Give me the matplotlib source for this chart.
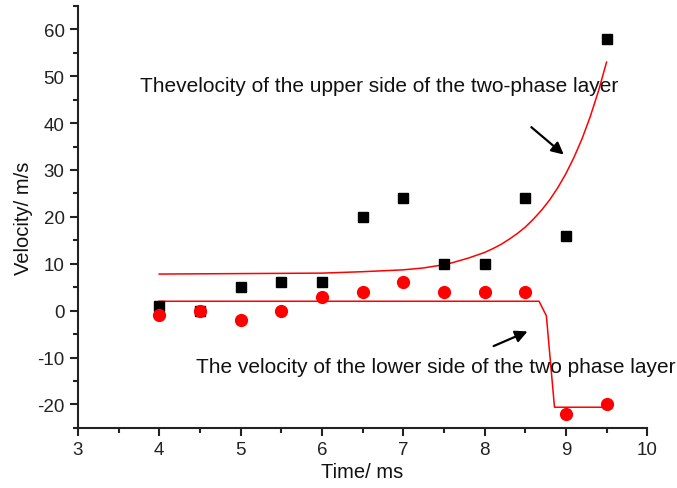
import matplotlib.pyplot as plt
from matplotlib.ticker import MultipleLocator

plt.rcParams['font.family'] = ['Liberation Sans', 'DejaVu Sans']
plt.rcParams['axes.unicode_minus'] = False

# measured points
time_ms = [4, 4.5, 5, 5.5, 6, 6.5, 7, 7.5, 8, 8.5, 9, 9.5]
upper_vel = [1, 0, 5, 6, 6, 20, 24, 10, 10, 24, 16, 58]
lower_vel = [-1, 0, -2, 0, 3, 4, 6, 4, 4, 4, -22, -20]

# fitted curves
upper_fit_t = [4, 5, 6, 6.5, 7, 7.25, 7.5, 7.6, 7.7, 7.8, 7.9, 8.0, 8.1, 8.2, 8.3, 8.4,
               8.5, 8.6, 8.7, 8.8, 8.9, 9.0, 9.1, 9.2, 9.3, 9.4, 9.5]
upper_fit_v = [7.8, 7.9, 8.0, 8.3, 8.7, 9.1, 9.8, 10.2, 10.7, 11.2, 11.8, 12.4, 13.2, 14.1, 15.2, 16.4,
               17.8, 19.5, 21.4, 23.6, 26.2, 29.2, 32.7, 36.7, 41.4, 46.8, 53.0]
lower_fit_t = [4, 8.67, 8.76, 8.86, 9.5]
lower_fit_v = [2, 2, -1.1, -20.6, -20.6]

fig = plt.figure(figsize=(6.77, 4.89), dpi=100)
ax = fig.add_axes([0.115, 0.123, 0.841, 0.863])

ax.plot(upper_fit_t, upper_fit_v, color='red', lw=1.1, zorder=2)
ax.plot(lower_fit_t, lower_fit_v, color='red', lw=1.1, zorder=2)
ax.plot(time_ms, upper_vel, 's', color='black', ms=7, zorder=3)
ax.plot(time_ms, lower_vel, 'o', color='red', ms=8.5, zorder=4)

ax.text(3.76, 48, 'Thevelocity of the upper side of the two-phase layer',
        fontsize=15, va='center', ha='left', color='#111111')
ax.text(4.45, -12, 'The velocity of the lower side of the two phase layer',
        fontsize=15, va='center', ha='left', color='#111111')

ax.annotate('', xy=(9.0, 32.9), xytext=(8.55, 39.5),
            arrowprops=dict(arrowstyle='-|>', color='black', lw=1.6, mutation_scale=18))
ax.annotate('', xy=(8.56, -4.2), xytext=(8.08, -7.8),
            arrowprops=dict(arrowstyle='-|>', color='black', lw=1.6, mutation_scale=18))

ax.set_xlim(3, 10)
ax.set_ylim(-25, 65)
ax.xaxis.set_major_locator(MultipleLocator(1))
ax.xaxis.set_minor_locator(MultipleLocator(0.5))
ax.yaxis.set_minor_locator(MultipleLocator(5))
ax.set_yticks(range(-20, 61, 10))

for side in ['top', 'right']:
    ax.spines[side].set_visible(False)
for side in ['left', 'bottom']:
    ax.spines[side].set_linewidth(1.5)
    ax.spines[side].set_color('#222222')

ax.tick_params(which='major', direction='out', length=6, width=1.5, labelsize=13.5, colors='#222222')
ax.tick_params(which='minor', direction='out', length=3.5, width=1.5, colors='#222222')

ax.set_xlabel('Time/ ms', fontsize=14.5, color='#111111', labelpad=3)
ax.set_ylabel('Velocity/ m/s', fontsize=14.5, color='#111111', labelpad=3)

fig.savefig('out.png', dpi=100)
